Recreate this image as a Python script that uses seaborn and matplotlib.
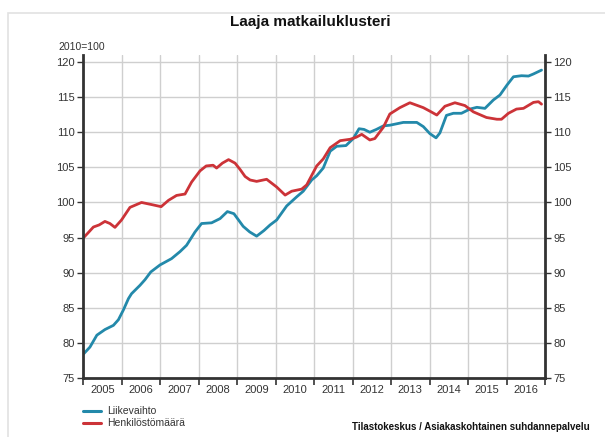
import numpy as np
import pandas as pd
import matplotlib
matplotlib.use('Agg')
import matplotlib.pyplot as plt
import seaborn as sb
from matplotlib.patches import Rectangle

#-------------------------------------------------------------------------------------------------
# data (2010=100)
#-------------------------------------------------------------------------------------------------
t_liike = [2005.01, 2005.18, 2005.36, 2005.57, 2005.79, 2005.92, 2006.05, 2006.18, 2006.26, 2006.48,
           2006.61, 2006.76, 2007.0, 2007.30, 2007.52, 2007.69, 2007.91, 2008.08, 2008.34, 2008.56,
           2008.75, 2008.92, 2009.16, 2009.33, 2009.51, 2009.70, 2009.86, 2010.03, 2010.29, 2010.55,
           2010.72, 2010.94, 2011.07, 2011.24, 2011.42, 2011.59, 2011.83, 2012.02, 2012.17, 2012.30,
           2012.45, 2012.62, 2012.80, 2012.97, 2013.32, 2013.67, 2013.84, 2014.01, 2014.17, 2014.27,
           2014.44, 2014.62, 2014.83, 2015.05, 2015.23, 2015.44, 2015.66, 2015.83, 2016.01, 2016.18,
           2016.39, 2016.57, 2016.70, 2016.91]
liikevaihto = [78.4, 79.4, 81.1, 81.9, 82.5, 83.3, 84.7, 86.3, 87.0, 88.2,
               89.0, 90.1, 91.1, 92.0, 93.0, 93.9, 95.8, 97.0, 97.1, 97.7,
               98.7, 98.4, 96.6, 95.8, 95.2, 96.0, 96.8, 97.5, 99.5, 100.8,
               101.6, 103.2, 103.8, 104.9, 107.3, 108.0, 108.1, 109.1, 110.5, 110.4,
               110.0, 110.4, 110.9, 111.0, 111.4, 111.4, 110.8, 109.8, 109.2, 109.9,
               112.4, 112.7, 112.7, 113.3, 113.55, 113.4, 114.6, 115.3, 116.7, 117.9,
               118.05, 118.0, 118.3, 118.85]

t_henk = [2005.0, 2005.12, 2005.27, 2005.42, 2005.57, 2005.70, 2005.83, 2006.0, 2006.22, 2006.52,
          2006.78, 2007.03, 2007.22, 2007.43, 2007.65, 2007.82, 2008.04, 2008.20, 2008.38, 2008.47,
          2008.62, 2008.78, 2008.95, 2009.08, 2009.21, 2009.34, 2009.51, 2009.77, 2010.03, 2010.25,
          2010.42, 2010.68, 2010.81, 2011.07, 2011.24, 2011.42, 2011.68, 2011.94, 2012.10, 2012.24,
          2012.45, 2012.58, 2012.80, 2012.97, 2013.23, 2013.49, 2013.84, 2014.01, 2014.19, 2014.40,
          2014.66, 2014.92, 2015.14, 2015.48, 2015.75, 2015.87, 2016.05, 2016.26, 2016.44, 2016.70,
          2016.83, 2016.91]
henkilosto = [94.9, 95.6, 96.5, 96.8, 97.3, 97.0, 96.45, 97.5, 99.3, 100.0,
              99.7, 99.4, 100.3, 101.0, 101.2, 102.9, 104.5, 105.2, 105.3, 104.9,
              105.6, 106.1, 105.6, 104.7, 103.7, 103.2, 103.0, 103.3, 102.2, 101.05,
              101.6, 101.9, 102.5, 105.2, 106.2, 107.8, 108.8, 109.0, 109.3, 109.7,
              108.9, 109.1, 110.7, 112.6, 113.5, 114.2, 113.5, 113.0, 112.45, 113.7,
              114.2, 113.8, 112.9, 112.1, 111.85, 111.85, 112.7, 113.3, 113.4, 114.25,
              114.35, 114.0]

years = list(range(2005, 2017))
series_names = ['Liikevaihto', 'Henkilöstömäärä']
colors = ['#2389aa', '#cc3338']

df = pd.concat([
    pd.DataFrame({'aika': t_liike, 'indeksi': liikevaihto, 'sarja': series_names[0]}),
    pd.DataFrame({'aika': t_henk, 'indeksi': henkilosto, 'sarja': series_names[1]}),
])

#-------------------------------------------------------------------------------------------------
# plotting
#-------------------------------------------------------------------------------------------------
sb.set_style('white')
plt.rcParams['font.family'] = ['Liberation Sans', 'DejaVu Sans']

fig = plt.figure(figsize=(6.05, 4.37), dpi=100)
fig.patches.append(Rectangle((8/605, -0.01), 1.0, 1 - 13/437 + 0.01, transform=fig.transFigure,
                             facecolor='none', edgecolor='#e2e2e2', lw=1.2))
ax = fig.add_axes([83/605, 1 - 378/437, 462/605, 323/437])

sb.lineplot(data=df, x='aika', y='indeksi', hue='sarja', palette=colors, linewidth=2.0,
            ax=ax, legend=False, estimator=None, sort=False)
for ln in ax.lines:
    ln.set_solid_joinstyle('round')
    ln.set_solid_capstyle('round')

ax.set_xlim(2005, 2017)
ax.set_ylim(75, 121)
ax.set_xlabel('')
ax.set_ylabel('')
ax.set_yticks(range(75, 121, 5))
ax.set_xticks(range(2005, 2018))
ax.set_xticklabels([])
ax.set_xticks([y + 0.5 for y in years], minor=True)
ax.set_xticklabels([str(y) for y in years], minor=True)
ax.tick_params(axis='x', which='major', length=5, width=1.2, color='#333333', direction='out', bottom=True)
ax.tick_params(axis='x', which='minor', length=0, labelsize=8, labelcolor='#333333', pad=5)
ax.tick_params(axis='y', length=4, width=1, color='#333333', labelsize=8, labelcolor='#333333', left=True, pad=2)
ax.grid(True, which='major', color='#cfcfcf', linewidth=1)
ax.set_axisbelow(True)

for side in ['left', 'right', 'bottom']:
    ax.spines[side].set_color('#333333')
    ax.spines[side].set_linewidth(2)
ax.spines['top'].set_visible(False)

ax2 = ax.twinx()
ax2.set_ylim(75, 121)
ax2.set_yticks(range(75, 121, 5))
ax2.tick_params(axis='y', length=4, width=1, color='#333333', labelsize=8, labelcolor='#333333', right=True, pad=2)
for side in ['left', 'right', 'bottom', 'top']:
    ax2.spines[side].set_visible(False)

fig.text(310/605, 1 - 22/437, 'Laaja matkailuklusteri', ha='center', va='center',
         fontsize=11, fontweight='bold', color='#111111')
fig.text(58/605, 1 - 47/437, '2010=100', ha='left', va='center', fontsize=7.5, color='#333333')

# legend under the plot
for i, (name, c) in enumerate(zip(series_names, colors)):
    yy = 1 - (411 + 12 * i) / 437
    fig.add_artist(plt.Line2D([83/605, 101/605], [yy, yy], transform=fig.transFigure, color=c, lw=2.2))
    fig.text(107/605, yy, name, ha='left', va='center', fontsize=7.5, color='#333333')

fig.text(590/605, 1 - 427/437, 'Tilastokeskus / Asiakaskohtainen suhdannepalvelu', ha='right',
         va='center', fontsize=7, fontweight='bold', color='#111111')

plt.savefig('out.png', dpi=100)
